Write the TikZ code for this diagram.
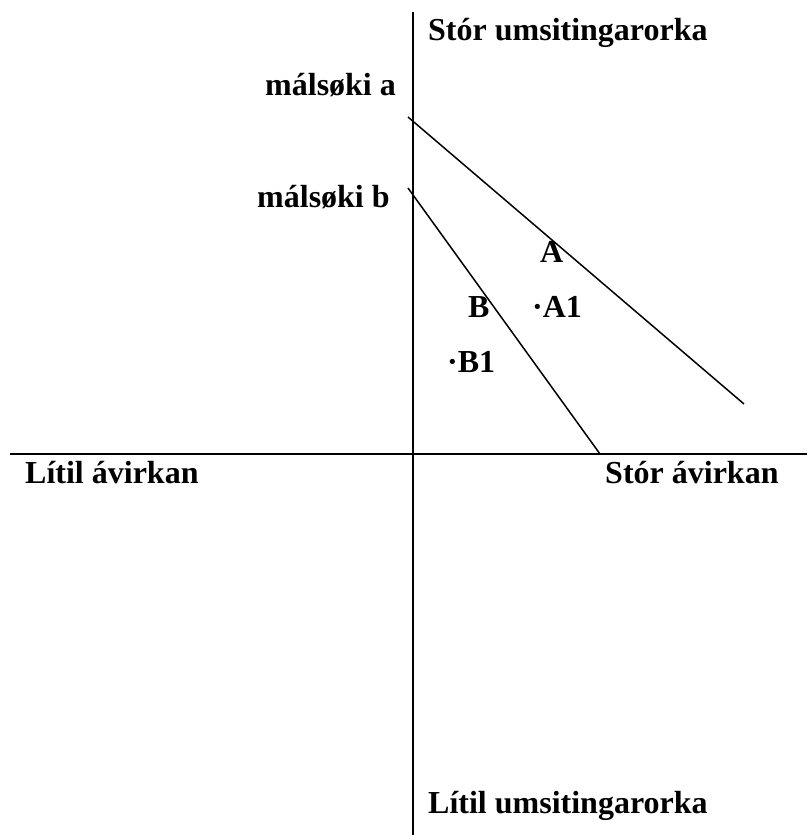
\documentclass[tikz,border=0pt]{standalone}
\usepackage{fontspec}
\setmainfont{Liberation Serif}
\usetikzlibrary{positioning}

\begin{document}
\begin{tikzpicture}[x=1pt,y=-1pt,
    lbl/.style={font=\fontsize{32}{38}\selectfont\bfseries, inner sep=0pt, anchor=base west},
    axis/.style={line width=2pt},
    slope/.style={line width=1.5pt}]
  \useasboundingbox (0,0) rectangle (807,835);
  \def\ox{413}
  \def\oy{454}

  %Axes
  \coordinate (top) at (\ox,12);
  \coordinate (bottom) at (\ox,835);
  \coordinate (left) at (10,\oy);
  \coordinate (right) at (807,\oy);
  \draw[axis] (top) -- (bottom);
  \draw[axis] (left) -- (right);

  %Axis labels
  \node[lbl] (high) at (428,40) {Stór umsitingarorka};
  \node[lbl] (low) at (428,813) {Lítil umsitingarorka};
  \node[lbl] (small) at (25,483) {Lítil ávirkan};
  \node[lbl] (large) at (605,483) {Stór ávirkan};

  %Lines a and b
  \node[lbl] (mala) at (265,95) {málsøki a};
  \node[lbl] (malb) at (257,207) {málsøki b};
  \coordinate (a0) at (408,117);
  \coordinate (a1) at (744,404);
  \coordinate (b0) at (408,188);
  \coordinate (b1) at (600,\oy);
  \draw[slope] (a0) -- (a1);
  \draw[slope] (b0) -- (b1);

  %Points
  \node[lbl] (A) at (540,262) {A};
  \node[lbl] (B) at (468,317) {B};
  \node[lbl] (A1) at (532,317) {\textperiodcentered A1};
  \node[lbl] (B1) at (447,372) {\textperiodcentered B1};
\end{tikzpicture}
\end{document}
